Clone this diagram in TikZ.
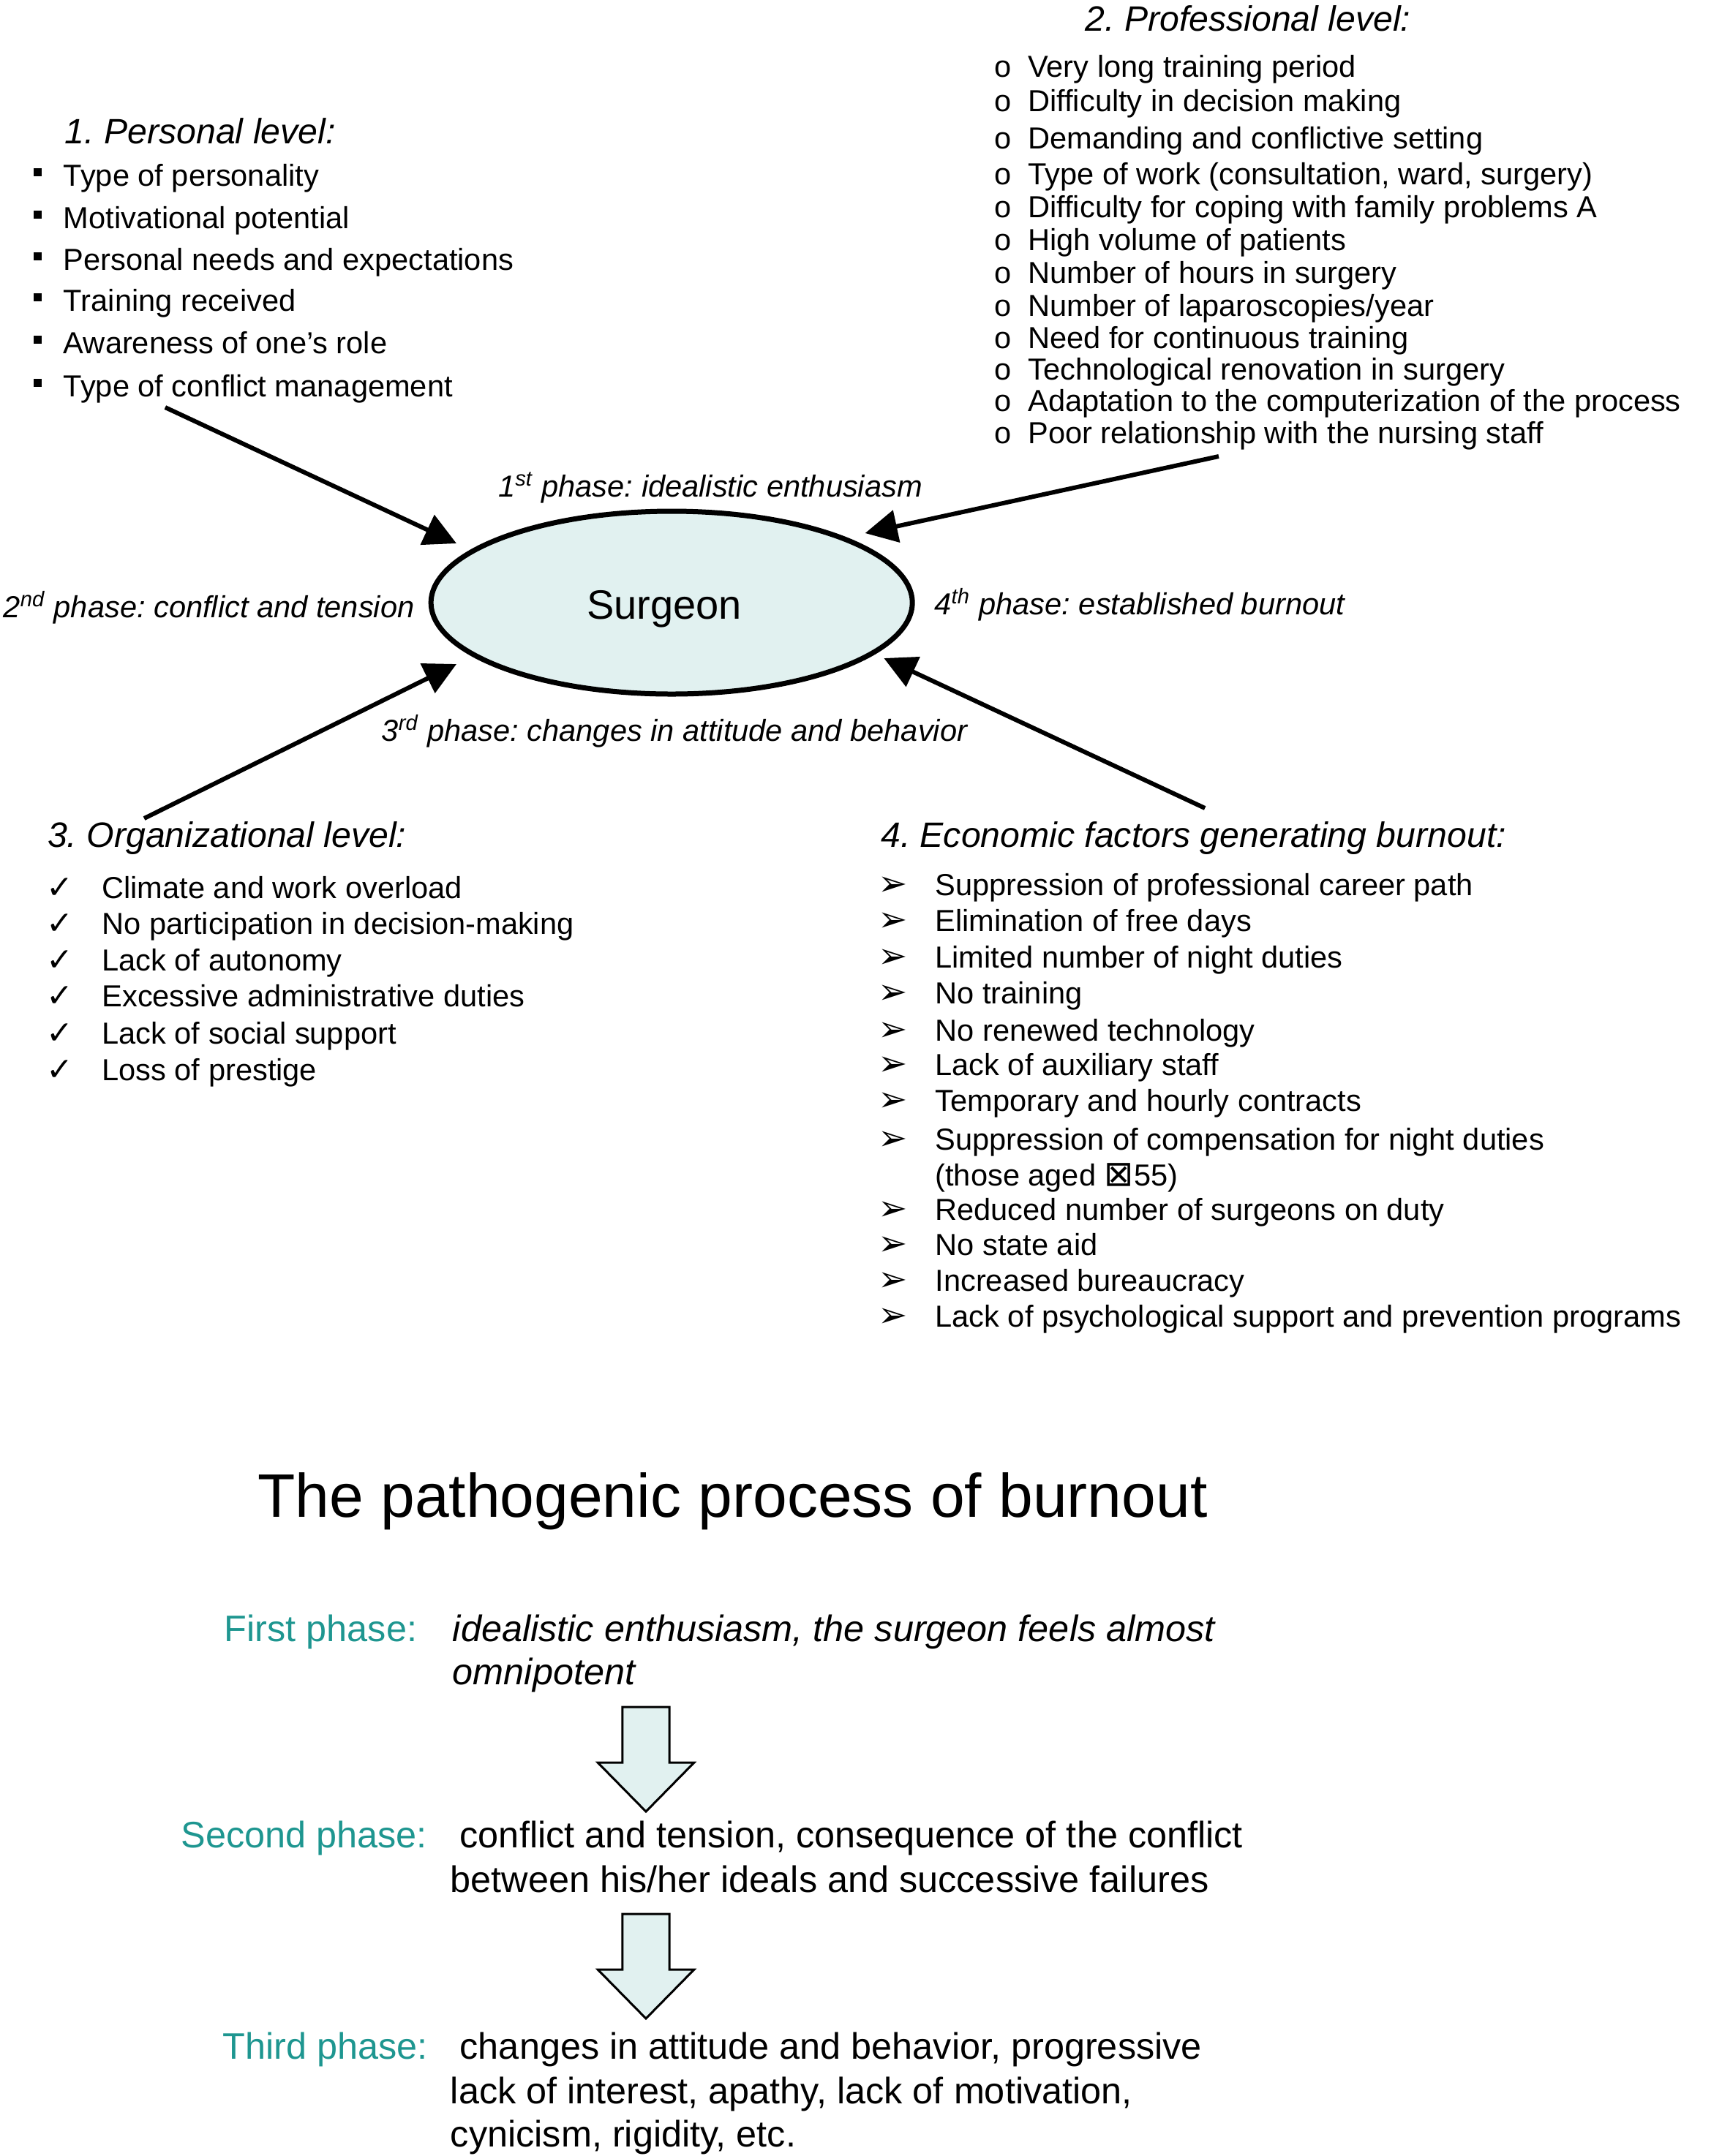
\documentclass[tikz,border=0pt]{standalone}
\usepackage{fontspec}
\setmainfont{Liberation Sans}
\newfontfamily\dejavu{DejaVu Sans}
\usetikzlibrary{shapes.geometric,arrows.meta}
\definecolor{phaseteal}{RGB}{30,150,144}
\definecolor{surgfill}{RGB}{225,241,240}
\frenchspacing
\tikzset{
  txt/.style={anchor=base west, inner sep=0pt, font=\fontsize{10.4}{12}\selectfont},
  hdr/.style={anchor=base west, inner sep=0pt, font=\fontsize{12.05}{14}\selectfont\itshape},
  phs/.style={anchor=base west, inner sep=0pt, font=\fontsize{10.4}{12}\selectfont\itshape},
  bot/.style={anchor=base west, inner sep=0pt, font=\fontsize{12.6}{15}\selectfont},
  botit/.style={anchor=base west, inner sep=0pt, font=\fontsize{12.6}{15}\selectfont\itshape},
  tealbl/.style={bot, text=phaseteal},
  conn/.style={line width=1.5pt, -{Triangle[length=11pt,width=11pt]}},
  blockarr/.style={draw, line width=0.75pt, fill=surgfill, line join=miter},
}
\newcommand{\sqbul}{\llap{\makebox[10.25pt][l]{\rule[3.3pt]{2.8pt}{2.8pt}}}}
\newcommand{\obul}{\llap{\makebox[11.5pt][l]{o}}}
\newcommand{\chkbul}{\llap{\makebox[19pt][l]{\dejavu\fontsize{11}{11}\selectfont ✓}}}
\newcommand{\arrbul}{\llap{\makebox[19.5pt][l]{\dejavu\fontsize{12}{12}\selectfont ➢}}}
\begin{document}
\begin{tikzpicture}[x=0.247625pt,y=-0.25pt]
\useasboundingbox (0,0) rectangle (2376.6,2948);

% 1. Personal level
\node[hdr] (pershdr) at (89,196) {1. Personal level:};
\foreach \yy/\t [count=\i] in {254/Type of personality, 312/Motivational potential, 369/Personal needs and expectations, 425/Training received, 483/Awareness of one’s role, 542/Type of conflict management}
  \node[txt] (pers\i) at (87,\yy) {\sqbul\t};

% 2. Professional level
\node[hdr] (profhdr) at (1497,42) {2. Professional level:};
\foreach \yy/\t [count=\i] in {105/Very long training period, 152/Difficulty in decision making, 203/Demanding and conflictive setting, 252/{Type of work (consultation, ward, surgery)}, 297/Difficulty for coping with family problems A, 342/High volume of patients, 387/Number of hours in surgery, 432/{Number of laparoscopies/year}, 476/Need for continuous training, 519/Technological renovation in surgery, 562/Adaptation to the computerization of the process, 606/Poor relationship with the nursing staff}
  \node[txt] (prof\i) at (1418,\yy) {\obul\t};

% Centre
\node[ellipse, draw, line width=1.75pt, fill=surgfill, minimum width=164.5pt, minimum height=62.5pt, inner sep=0pt,
      font=\fontsize{14}{16}\selectfont] (surgeon) at (927,824) {\hspace*{-5pt}\raisebox{-5.5pt}[0pt][0pt]{Surgeon}};

\node[phs] (ph1) at (687,679) {1\textsuperscript{st} phase: idealistic enthusiasm};
\node[phs] (ph2) at (4,844) {2\textsuperscript{nd} phase: conflict and tension};
\node[phs] (ph4) at (1289,840) {4\textsuperscript{th} phase: established burnout};
\node[phs] (ph3) at (526,1013) {3\textsuperscript{rd} phase: changes in attitude and behavior};

% connectors
\coordinate (a1s) at (228,557);  \coordinate (a1e) at (630,743);
\coordinate (a2s) at (1682,624); \coordinate (a2e) at (1194,729);
\coordinate (a3s) at (199,1119); \coordinate (a3e) at (630,908);
\coordinate (a4s) at (1663,1105);\coordinate (a4e) at (1220,900);
\draw[conn] (a1s) -- (a1e);
\draw[conn] (a2s) -- (a2e);
\draw[conn] (a3s) -- (a3e);
\draw[conn] (a4s) -- (a4e);

% 3. Organizational level
\node[hdr] (orghdr) at (65,1158) {3. Organizational level:};
\foreach \yy/\t [count=\i] in {1228/Climate and work overload, 1277/No participation in decision-making, 1327/Lack of autonomy, 1376/Excessive administrative duties, 1427/Lack of social support, 1477/Loss of prestige}
  \node[txt] (org\i) at (140,\yy) {\chkbul\t};

% 4. Economic factors
\node[hdr] (ecohdr) at (1215,1158) {4. Economic factors generating burnout:};
\foreach \yy/\t [count=\i] in {1224/Suppression of professional career path, 1273/Elimination of free days, 1323/Limited number of night duties, 1372/No training, 1423/No renewed technology, 1470/Lack of auxiliary staff, 1519/Temporary and hourly contracts, 1572/Suppression of compensation for night duties, 1668/Reduced number of surgeons on duty, 1716/No state aid, 1765/Increased bureaucracy, 1814/Lack of psychological support and prevention programs}
  \node[txt] (eco\i) at (1290,\yy) {\arrbul\t};
\node[txt] (ecoaged) at (1290,1621) {(those aged {\dejavu\fontsize{12}{12}\selectfont ⊠}55)};

% Title
\node[anchor=base west, inner sep=0pt, font=\fontsize{21}{25}\selectfont] (title) at (355,2074) {The pathogenic process of burnout};

% Phases
\node[tealbl] (first) at (309,2244) {First phase:};
\node[botit] (firsta) at (624,2244) {idealistic enthusiasm, the surgeon feels almost};
\node[botit] (firstb) at (624,2303) {omnipotent};

\draw[blockarr] (859,2334) -- (924,2334) -- (924,2410) -- (958,2410) -- (891.5,2477) -- (825,2410) -- (859,2410) -- cycle;

\node[tealbl] (second) at (249,2526) {Second phase:};
\node[bot] (seconda) at (634,2526) {conflict and tension, consequence of the conflict};
\node[bot] (secondb) at (621,2587) {between his/her ideals and successive failures};

\draw[blockarr] (859,2617) -- (924,2617) -- (924,2693) -- (958,2693) -- (891.5,2760) -- (825,2693) -- (859,2693) -- cycle;

\node[tealbl] (third) at (307,2815) {Third phase:};
\node[bot] (thirda) at (634,2815) {changes in attitude and behavior, progressive};
\node[bot] (thirdb) at (621,2876) {lack of interest, apathy, lack of motivation,};
\node[bot] (thirdc) at (621,2935) {cynicism, rigidity, etc.};
\end{tikzpicture}
\end{document}
